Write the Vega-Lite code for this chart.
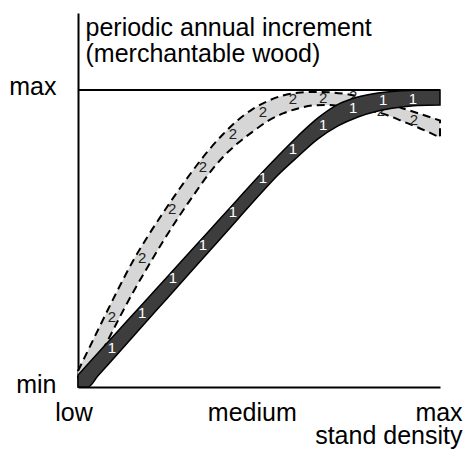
{
  "$schema": "https://vega.github.io/schema/vega-lite/v6.json",
  "width": 362,
  "height": 374,
  "autosize": {"type": "none"},
  "padding": {"left": 78, "top": 13, "right": 25, "bottom": 65},
  "background": "white",
  "view": {"stroke": null},
  "config": {"font": "Liberation Sans"},
  "datasets": {
    "band1": [
      {"x": 0, "lo": 0, "hi": 4.04},
      {"x": 2.76, "lo": 0, "hi": 7.74},
      {"x": 5.52, "lo": 3.77, "hi": 11.45},
      {"x": 11.05, "lo": 11.31, "hi": 18.86},
      {"x": 16.57, "lo": 18.86, "hi": 26.26},
      {"x": 22.10, "lo": 26.40, "hi": 33.67},
      {"x": 27.62, "lo": 33.94, "hi": 41.08},
      {"x": 33.15, "lo": 41.48, "hi": 48.48},
      {"x": 38.67, "lo": 49.02, "hi": 55.89},
      {"x": 44.20, "lo": 56.57, "hi": 63.30},
      {"x": 49.72, "lo": 64.11, "hi": 70.71},
      {"x": 55.25, "lo": 71.38, "hi": 77.78},
      {"x": 60.77, "lo": 77.61, "hi": 84.51},
      {"x": 66.30, "lo": 83.50, "hi": 90.57},
      {"x": 71.82, "lo": 87.88, "hi": 95.12},
      {"x": 77.35, "lo": 90.91, "hi": 97.64},
      {"x": 82.87, "lo": 92.93, "hi": 98.99},
      {"x": 88.40, "lo": 94.11, "hi": 99.66},
      {"x": 93.92, "lo": 94.78, "hi": 99.90},
      {"x": 100, "lo": 94.95, "hi": 100}
    ],
    "band2": [
      {"x": 0, "lo": 3.37, "hi": 5.39},
      {"x": 2.76, "lo": 4.38, "hi": 12.29},
      {"x": 5.52, "lo": 9.76, "hi": 19.19},
      {"x": 8.29, "lo": 15.82, "hi": 26.09},
      {"x": 11.05, "lo": 22.39, "hi": 32.83},
      {"x": 15.19, "lo": 31.82, "hi": 42.42},
      {"x": 19.34, "lo": 40.57, "hi": 50.84},
      {"x": 23.48, "lo": 48.99, "hi": 58.59},
      {"x": 27.62, "lo": 56.90, "hi": 65.99},
      {"x": 31.77, "lo": 64.31, "hi": 72.96},
      {"x": 35.91, "lo": 71.38, "hi": 79.43},
      {"x": 40.06, "lo": 77.44, "hi": 85.08},
      {"x": 44.20, "lo": 82.15, "hi": 89.90},
      {"x": 48.34, "lo": 86.03, "hi": 93.60},
      {"x": 52.49, "lo": 89.56, "hi": 96.30},
      {"x": 56.63, "lo": 92.09, "hi": 98.15},
      {"x": 60.77, "lo": 93.77, "hi": 99.06},
      {"x": 64.92, "lo": 94.78, "hi": 99.33},
      {"x": 69.06, "lo": 94.95, "hi": 99.23},
      {"x": 73.20, "lo": 94.51, "hi": 98.75},
      {"x": 77.35, "lo": 93.94, "hi": 97.88},
      {"x": 81.49, "lo": 92.93, "hi": 96.63},
      {"x": 85.64, "lo": 91.41, "hi": 95.29},
      {"x": 89.78, "lo": 89.39, "hi": 93.77},
      {"x": 93.92, "lo": 87.37, "hi": 92.15},
      {"x": 100, "lo": 84.01, "hi": 89.73}
    ],
    "labels1": [
      {"x": 9.4, "y": 13.1, "label": "1"},
      {"x": 17.7, "y": 24.9, "label": "1"},
      {"x": 26.2, "y": 36.7, "label": "1"},
      {"x": 34.5, "y": 47.8, "label": "1"},
      {"x": 42.8, "y": 58.9, "label": "1"},
      {"x": 51.1, "y": 70.4, "label": "1"},
      {"x": 59.4, "y": 80.1, "label": "1"},
      {"x": 67.7, "y": 88.2, "label": "1"},
      {"x": 76.0, "y": 93.9, "label": "1"},
      {"x": 84.3, "y": 96.6, "label": "1"},
      {"x": 92.5, "y": 97.0, "label": "1"}
    ],
    "labels2": [
      {"x": 9.4, "y": 23.6, "label": "2"},
      {"x": 17.7, "y": 43.4, "label": "2"},
      {"x": 26.0, "y": 59.9, "label": "2"},
      {"x": 34.5, "y": 74.1, "label": "2"},
      {"x": 42.8, "y": 85.2, "label": "2"},
      {"x": 51.1, "y": 92.6, "label": "2"},
      {"x": 59.4, "y": 97.0, "label": "2"},
      {"x": 67.7, "y": 97.3, "label": "2"},
      {"x": 76.0, "y": 98.0, "label": "2"},
      {"x": 83.7, "y": 92.9, "label": "2"},
      {"x": 92.8, "y": 89.9, "label": "2"}
    ],
    "maxline": [{"x0": 0, "x1": 100, "y": 100}]
  },
  "layer": [
    {
      "data": {"name": "maxline"},
      "mark": {"type": "rule", "stroke": "black", "strokeWidth": 2},
      "encoding": {
        "x": {"field": "x0", "type": "quantitative",
          "scale": {"domain": [0, 100], "nice": false, "zero": false},
          "axis": {
            "values": [0, 48, 100],
            "labelExpr": "datum.value == 0 ? 'low' : datum.value == 100 ? 'max' : 'medium'",
            "labelFontSize": 25, "labelColor": "black",
            "labelBaseline": "alphabetic", "labelPadding": 33,
            "labelOffset": {"expr": "datum.value == 0 ? -4.5 : datum.value == 100 ? -1.5 : 0"},
            "labelFlush": false, "labelOverlap": false,
            "ticks": false, "tickSize": 0, "grid": false,
            "domainColor": "black", "domainWidth": 2,
            "title": "stand density", "titleFontSize": 25, "titleFontWeight": "normal",
            "titleColor": "black", "titleAlign": "right", "titleAnchor": "end",
            "titleBaseline": "alphabetic", "titleX": 384, "titleY": 56
          }
        },
        "x2": {"field": "x1"},
        "y": {"field": "y", "type": "quantitative",
          "scale": {"domain": [0, 125.9], "nice": false, "zero": false},
          "axis": {
            "values": [0, 100],
            "labelExpr": "datum.value == 0 ? 'min' : 'max'",
            "labelFontSize": 25, "labelColor": "black",
            "labelBaseline": "alphabetic", "labelOffset": 5,
            "labelPadding": 22, "labelAlign": "right",
            "ticks": false, "tickSize": 0, "grid": false,
            "domainColor": "black", "domainWidth": 2,
            "title": ["periodic annual increment", "(merchantable wood)"],
            "titleFontSize": 25, "titleFontWeight": "normal", "titleColor": "black",
            "titleAngle": 0, "titleAlign": "left", "titleBaseline": "alphabetic",
            "titleLineHeight": 26, "titleX": 7, "titleY": 22
          }
        }
      }
    },
    {
      "data": {"name": "band2"},
      "mark": {"type": "area", "interpolate": "monotone", "fill": "#d6d6d6", "stroke": "black", "strokeWidth": 2, "strokeDash": [8, 5]},
      "encoding": {
        "x": {"field": "x", "type": "quantitative"},
        "y": {"field": "hi", "type": "quantitative"},
        "y2": {"field": "lo"}
      }
    },
    {
      "data": {"name": "labels2"},
      "mark": {"type": "text", "fontSize": 15, "fill": "#222222", "align": "center", "baseline": "middle"},
      "encoding": {
        "x": {"field": "x", "type": "quantitative"},
        "y": {"field": "y", "type": "quantitative"},
        "text": {"field": "label"}
      }
    },
    {
      "data": {"name": "band1"},
      "mark": {"type": "area", "interpolate": "monotone", "fill": "#3d3d3d", "stroke": "black", "strokeWidth": 1.5},
      "encoding": {
        "x": {"field": "x", "type": "quantitative"},
        "y": {"field": "hi", "type": "quantitative"},
        "y2": {"field": "lo"}
      }
    },
    {
      "data": {"name": "labels1"},
      "mark": {"type": "text", "fontSize": 15, "fill": "#ffffff", "align": "center", "baseline": "middle"},
      "encoding": {
        "x": {"field": "x", "type": "quantitative"},
        "y": {"field": "y", "type": "quantitative"},
        "text": {"field": "label"}
      }
    }
  ]
}
